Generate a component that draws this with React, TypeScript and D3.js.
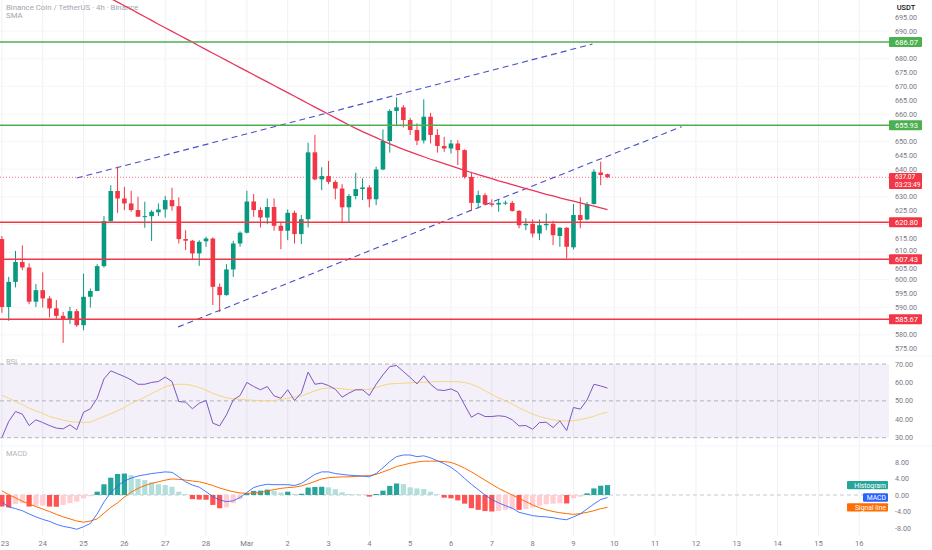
import * as d3 from "d3";

// 4h candles, Feb 23 00:00 -> Mar 9 20:00
const opens = [
  614.7, 590.1, 599.2, 606.4, 604.4, 592.0, 596.2, 593.2, 589.6, 586.9,
  585.6, 588.6, 583.5, 593.8, 595.9, 604.9, 621.2, 632.1, 629.4, 627.6,
  625.2, 622.7, 623.0, 624.4, 625.4, 628.8, 626.6, 614.7, 614.1, 609.5,
  613.9, 614.9, 597.4, 594.4, 603.7, 613.1, 617.0, 628.3, 625.2, 622.5,
  626.3, 619.5, 617.7, 624.2, 616.5, 621.9, 646.1, 636.3, 637.5, 635.4,
  633.0, 626.2, 630.3, 632.8, 633.4, 629.1, 639.9, 650.2, 661.1, 662.4,
  657.8, 654.2, 650.4, 659.0, 652.4, 648.4, 647.5, 649.3, 646.9, 637.2,
  627.8, 630.6, 627.6, 627.2, 627.6, 627.8, 624.9, 619.7, 620.2, 616.7,
  619.7, 620.2, 615.8, 618.8, 611.7, 623.4, 621.8, 627.4, 638.8, 638.2,
];
const highs = [
  615.8, 601.0, 610.4, 612.4, 605.9, 598.4, 602.6, 594.0, 592.6, 588.3,
  590.1, 589.4, 602.2, 596.8, 605.6, 623.0, 634.2, 640.9, 633.6, 632.2,
  630.0, 628.2, 625.2, 627.6, 630.3, 633.3, 629.8, 617.9, 614.4, 614.3,
  615.5, 615.3, 598.6, 605.6, 614.1, 617.5, 632.2, 631.0, 626.2, 629.4,
  629.4, 620.9, 625.4, 625.0, 623.4, 649.6, 652.4, 640.7, 643.0, 636.0,
  634.6, 631.0, 638.7, 636.7, 634.2, 640.9, 654.4, 661.7, 666.0, 663.2,
  658.5, 656.6, 665.3, 660.4, 654.5, 651.7, 650.6, 650.5, 647.2, 639.0,
  632.2, 631.4, 629.1, 628.8, 628.6, 628.5, 625.2, 622.2, 621.8, 621.8,
  624.0, 621.3, 619.0, 619.0, 627.4, 629.8, 628.1, 640.0, 642.7, 638.4,
];
const lows = [
  588.0, 585.1, 597.2, 603.4, 591.1, 590.1, 589.9, 586.3, 585.9, 577.1,
  584.0, 582.9, 581.7, 589.9, 595.9, 604.4, 621.0, 624.2, 625.2, 624.6,
  622.8, 618.8, 614.0, 623.0, 622.5, 625.0, 613.1, 610.7, 607.1, 605.0,
  611.9, 590.8, 588.3, 594.2, 601.0, 611.9, 616.7, 622.8, 618.9, 620.1,
  617.7, 611.0, 614.3, 613.1, 612.9, 618.9, 636.0, 632.4, 634.6, 629.1,
  620.9, 620.9, 629.1, 628.8, 626.2, 627.0, 639.6, 646.0, 655.6, 655.1,
  652.4, 648.7, 649.3, 649.3, 646.0, 646.3, 645.7, 641.5, 636.6, 624.9,
  625.8, 627.0, 626.4, 624.6, 627.0, 624.6, 618.6, 617.9, 615.3, 614.3,
  617.9, 612.5, 611.9, 607.7, 610.9, 618.6, 621.5, 627.2, 634.2, 636.9,
];
const closes = [
  590.1, 599.2, 606.4, 604.4, 592.0, 596.2, 593.2, 589.6, 586.9, 585.6,
  588.6, 583.5, 593.8, 595.9, 604.9, 621.2, 632.1, 629.4, 627.6, 625.2,
  622.8, 623.0, 624.6, 625.4, 628.8, 626.6, 614.7, 614.1, 609.5, 613.7,
  614.9, 597.4, 594.4, 603.7, 613.1, 617.0, 628.3, 625.2, 622.5, 626.3,
  619.5, 617.7, 624.2, 616.5, 621.9, 646.1, 636.3, 637.5, 635.4, 633.0,
  626.2, 630.3, 632.8, 633.4, 629.1, 639.9, 650.2, 661.1, 662.4, 657.8,
  654.2, 650.3, 659.0, 652.4, 648.4, 647.5, 649.3, 646.9, 637.2, 627.8,
  630.6, 627.2, 627.1, 627.8, 627.9, 624.9, 619.7, 620.2, 616.7, 619.7,
  620.2, 616.1, 618.8, 611.9, 623.4, 621.6, 627.4, 639.1, 637.9, 637.07,
];

// long SMA, visible from candle 15 on
const smaStart = 15;
const smaValues = [
  703.1, 701.8, 700.5, 699.2, 697.9, 696.5, 695.2, 693.9, 692.5, 691.2,
  689.9, 688.6, 687.3, 686.0, 684.6, 683.3, 682.0, 680.7, 679.4, 678.1,
  676.8, 675.5, 674.2, 672.9, 671.6, 670.3, 669.0, 667.7, 666.4, 665.1,
  663.8, 662.5, 661.2, 659.9, 658.6, 657.3, 656.0, 654.8, 653.6, 652.5,
  651.4, 650.3, 649.2, 648.2, 647.2, 646.3, 645.4, 644.5, 643.6, 642.8,
  642.0, 641.2, 640.4, 639.6, 638.8, 638.0, 637.3, 636.6, 635.8, 635.1,
  634.4, 633.7, 633.0, 632.3, 631.6, 630.9, 630.3, 629.6, 629.0, 628.4,
  627.8, 627.2, 626.6, 626.0, 625.4,
];

const rsiValues = [
  30.1, 38.8, 44.2, 42.8, 36.6, 39.7, 38.2, 36.6, 35.2, 34.8,
  37.0, 34.3, 43.8, 45.7, 51.4, 61.9, 66.3, 64.7, 63.2, 61.4,
  59.0, 59.0, 60.0, 60.5, 62.9, 60.5, 49.6, 49.3, 45.7, 48.7,
  50.2, 37.9, 36.4, 42.4, 50.5, 52.9, 60.0, 57.8, 56.0, 57.8,
  52.7, 51.4, 56.0, 50.2, 54.2, 65.6, 59.0, 59.6, 58.3, 56.3,
  52.0, 54.2, 56.0, 56.0, 52.9, 59.0, 64.1, 68.6, 69.2, 65.9,
  62.7, 59.2, 63.6, 59.0, 56.0, 55.6, 56.5, 54.7, 47.8, 41.1,
  43.3, 41.5, 41.5, 41.9, 41.5, 39.7, 36.4, 36.6, 34.6, 38.2,
  38.4, 35.5, 39.1, 33.9, 46.4, 45.5, 50.5, 59.0, 58.1, 56.9,
];
const rsiMa = [
  53.0, 51.5, 49.6, 48.0, 46.0, 44.5, 43.2, 41.5, 40.5, 39.5,
  38.8, 38.4, 38.3, 38.4, 40.0, 41.5, 43.0, 44.6, 46.4, 48.6,
  50.3, 52.0, 54.0, 55.8, 57.6, 58.7, 59.0, 59.0, 58.3, 57.3,
  55.8, 54.0, 52.8, 51.6, 51.1, 50.8, 50.5, 50.3, 50.1, 50.0,
  50.2, 50.8, 51.4, 52.0, 52.7, 54.0, 55.4, 56.6, 57.0, 56.9,
  56.5, 56.1, 56.0, 56.0, 56.2, 57.2, 58.4, 59.2, 59.4, 59.6,
  59.8, 60.0, 60.1, 60.3, 60.5, 60.5, 60.5, 60.4, 60.0, 59.0,
  57.5, 55.5, 53.5, 51.5, 50.0, 48.3, 46.2, 44.5, 42.8, 41.5,
  40.5, 39.7, 39.3, 39.1, 39.2, 39.9, 40.6, 41.6, 43.0, 43.8,
];

const macdLine = [
  -1.7, -2.9, -3.3, -3.8, -4.6, -5.3, -5.9, -6.4, -7.1, -7.6,
  -7.9, -8.3, -7.7, -6.9, -4.6, -1.7, 0.6, 2.2, 3.4, 4.1,
  4.6, 4.9, 5.2, 5.4, 5.6, 5.5, 4.4, 3.2, 2.4, 1.9,
  0.8, -0.4, -1.2, -1.6, -1.4, -0.6, 0.6, 1.8, 2.3, 2.6,
  2.5, 2.5, 2.5, 2.3, 2.8, 3.9, 5.0, 5.6, 5.6, 5.2,
  5.0, 4.8, 4.7, 4.6, 4.4, 5.2, 6.6, 8.1, 9.3, 9.7,
  9.7, 9.3, 9.5, 9.0, 8.3, 7.6, 6.7, 5.5, 4.0, 2.6,
  1.3, 0.0, -1.1, -1.9, -2.6, -3.2, -4.2, -4.6, -5.0, -5.2,
  -5.3, -5.5, -5.8, -6.0, -5.3, -4.6, -3.4, -2.2, -1.1, -0.6,
];
const signalLine = [
  1.0, 0.1, -0.7, -1.5, -2.2, -2.8, -3.4, -4.0, -4.7, -5.3,
  -5.8, -6.3, -6.6, -6.3, -5.8, -4.4, -3.0, -1.9, -0.5, 0.7,
  1.6, 2.3, 2.8, 3.2, 3.6, 3.9, 3.8, 3.6, 3.4, 3.2,
  2.8, 2.3, 1.7, 1.2, 0.8, 0.5, 0.4, 0.5, 0.6, 1.0,
  1.3, 1.6, 1.8, 1.9, 2.2, 2.7, 3.3, 3.9, 4.2, 4.3,
  4.4, 4.4, 4.5, 4.6, 4.7, 5.0, 5.6, 6.2, 6.9, 7.3,
  7.7, 8.0, 8.2, 8.2, 8.2, 8.1, 7.9, 7.3, 6.5, 5.6,
  4.6, 3.6, 2.6, 1.6, 0.8, 0.0, -0.8, -1.6, -2.4, -3.1,
  -3.6, -4.0, -4.3, -4.5, -4.7, -4.5, -4.2, -3.8, -3.3, -3.0,
];
const histValues = [
  -2.8, -3.0, -2.2, -2.0, -2.8, -2.6, -2.55, -2.8, -2.85, -2.4,
  -2.0, -1.6, -0.8, -0.3, 0.8, 2.6, 4.2, 5.1, 5.2, 4.8,
  3.9, 3.6, 3.1, 2.6, 2.4, 2.0, 0.8, 0.2, -1.0, -1.1,
  -1.15, -2.4, -3.2, -3.0, -2.0, -1.0, 0.4, 1.0, 1.05, 1.3,
  1.0, 0.6, 0.8, 0.25, 0.3, 1.8, 1.95, 2.0, 1.85, 1.4,
  0.65, 0.25, 0.15, 0.1, -0.4, 0.25, 1.05, 2.2, 2.8, 2.65,
  1.85, 1.6, 1.45, 0.8, 0.15, -0.65, -0.8, -1.3, -2.1, -3.2,
  -3.6, -3.9, -4.0, -3.85, -3.6, -3.5, -3.6, -3.4, -3.05, -2.6,
  -2.25, -2.1, -2.0, -2.05, -0.8, -0.4, 0.4, 1.6, 2.25, 2.4,
];

// one label per day, every 6 candles
const dayLabels = [
  "23", "24", "25", "26", "27", "28", "Mar", "2", "3", "4", "5",
  "6", "7", "8", "9", "10", "11", "12", "13", "14", "15", "16",
];
const priceTicks = [
  695, 690, 685, 680, 675, 670, 665, 660, 655, 650, 645, 640, 635,
  630, 625, 620, 615, 610, 605, 600, 595, 590, 585, 580, 575,
];
const priceGrid = [690, 680, 670, 660, 650, 640, 630, 620, 610, 600, 590, 580];
const rsiTicks = [70, 60, 50, 40, 30];
const rsiBands = [70, 50, 30];
const macdTicks = [8, 4, 0, -4, -8];

const greenLevels = [686.07, 655.93];
const redLevels = [620.8, 607.43, 585.67];
// channel anchors: [candle index, price]
const upperChannel: [number, number][] = [[11, 636.8], [86.8, 685.3]];
const lowerChannel: [number, number][] = [[25.9, 582.9], [99.9, 655.4]];
const countdown = "03:23:49";

const FONT = "Roboto, 'Noto Sans', sans-serif";
const UP = "#089981";
const DOWN = "#f23645";
const GREEN_LEVEL = "#4caf50";
const RED_LEVEL = "#f23645";
const AXIS_TEXT = "#787b86";
const GRID = "#f0f1f5";

export default function App() {
  const width = 932;
  const height = 550;
  const plotRight = 889;
  const axisX = 895;

  const x = d3.scaleLinear().domain([0, 89]).range([1.9, 607.5]);
  const y = d3.scaleLinear().domain([575, 695]).range([348.7, 17.3]);
  const yRsi = d3.scaleLinear().domain([30, 70]).range([437.7, 364]);
  const yMacd = d3.scaleLinear().domain([-8, 8]).range([528, 462]);

  const last = closes.length - 1;
  const lastPrice = closes[last];
  const ly = y(lastPrice);

  // tick labels under the value tags are hidden; close neighbours are nudged away
  const tagged = [...greenLevels, ...redLevels];
  const tickRows = priceTicks
    .filter((p) => {
      const py = y(p);
      if (tagged.some((v) => Math.abs(y(v) - py) < 6)) return false;
      return !(py > ly - 6 && py < ly + 14);
    })
    .map((p) => {
      let py = y(p);
      tagged.forEach((v) => {
        const d = py - y(v);
        if (Math.abs(d) < 9) py = y(v) + Math.sign(d) * 9;
      });
      return { p, py };
    });

  const smaPath = d3
    .line<number>()
    .x((_, i) => x(i + smaStart))
    .y((d) => y(d))(smaValues);

  const rsiPath = d3.line<number>().x((_, i) => x(i)).y((d) => yRsi(d))(rsiValues);
  const rsiMaPath = d3.line<number>().x((_, i) => x(i)).y((d) => yRsi(d))(rsiMa);
  const macdPath = d3.line<number>().x((_, i) => x(i)).y((d) => yMacd(d))(macdLine);
  const signalPath = d3.line<number>().x((_, i) => x(i)).y((d) => yMacd(d))(signalLine);

  const histColor = (v: number, i: number) => {
    const prev = i > 0 ? histValues[i - 1] : 0;
    if (v >= 0) return v >= prev ? "#26a69a" : "#b2dfdb";
    return v < prev ? "#ff5252" : "#ffcdd2";
  };

  const bodyW = 4.6;
  const barW = 5.2;

  const levelLine = (v: number, color: string, key: string) => (
    <g key={key}>
      <line x1={0} x2={plotRight} y1={y(v)} y2={y(v)} stroke={color} strokeWidth={1.5} />
      <rect x={889} y={y(v) - 5} width={33} height={10} fill={color} rx={1} />
      <text x={axisX} y={y(v) + 2.6} fontSize={7.5} fill="#fff">
        {v.toFixed(2)}
      </text>
    </g>
  );

  const macdLegend = [
    { label: "Histogram", value: histValues[last], color: "#26a69a", w: 41 },
    { label: "MACD", value: macdLine[last], color: "#2962ff", w: 25 },
    { label: "Signal line", value: signalLine[last], color: "#ff6d00", w: 41 },
  ];

  return (
    <svg
      width={width}
      height={height}
      style={{ position: "absolute", left: 0, top: 0, background: "#fff" }}
      fontFamily={FONT}
    >
      <defs>
        <clipPath id="mainClip">
          <rect x={0} y={0} width={plotRight} height={355} />
        </clipPath>
      </defs>

      {/* grid */}
      {dayLabels.map((d, k) => (
        <line key={"g" + d} x1={x(k * 6)} x2={x(k * 6)} y1={0} y2={536} stroke={GRID} strokeWidth={1} />
      ))}
      {priceGrid.map((p) => (
        <line key={"hg" + p} x1={0} x2={plotRight} y1={y(p)} y2={y(p)} stroke="#f5f6f9" strokeWidth={1} />
      ))}

      {/* legend */}
      <text x={6} y={10} fontSize={7.8} fill="#a3a6af">
        Binance Coin / TetherUS · 4h · Binance
      </text>
      <text x={6} y={18} fontSize={7.8} fill="#a3a6af">
        SMA
      </text>

      {/* price axis ticks */}
      <text x={906} y={10} fontSize={7.5} fill="#131722" textAnchor="middle" fontWeight={500}>
        USDT
      </text>
      {tickRows.map((t) => (
        <text key={"p" + t.p} x={axisX} y={t.py + 2.6} fontSize={7.2} fill={AXIS_TEXT}>
          {t.p.toFixed(2)}
        </text>
      ))}

      <g clipPath="url(#mainClip)">
        {/* current price dotted line */}
        <line
          x1={0}
          x2={plotRight}
          y1={ly}
          y2={ly}
          stroke={DOWN}
          strokeWidth={1}
          strokeDasharray="1 2"
          opacity={0.7}
        />

        {/* channel */}
        {[upperChannel, lowerChannel].map((c, k) => (
          <line
            key={"ch" + k}
            x1={x(c[0][0])}
            y1={y(c[0][1])}
            x2={x(c[1][0])}
            y2={y(c[1][1])}
            stroke="#4a4fc4"
            strokeWidth={1.1}
            strokeDasharray="6 4"
          />
        ))}

        {/* candles */}
        {closes.map((c, i) => {
          const o = opens[i];
          const color = c >= o ? UP : DOWN;
          const top = y(Math.max(o, c));
          const h = Math.max(1, Math.abs(y(o) - y(c)));
          return (
            <g key={"c" + i}>
              <line x1={x(i)} x2={x(i)} y1={y(highs[i])} y2={y(lows[i])} stroke={color} strokeWidth={1} />
              <rect x={x(i) - bodyW / 2} y={top} width={bodyW} height={h} fill={color} />
            </g>
          );
        })}

        {/* SMA */}
        <path d={smaPath ?? ""} fill="none" stroke="#e8365a" strokeWidth={1.3} />
      </g>

      {/* horizontal levels */}
      {greenLevels.map((v) => levelLine(v, GREEN_LEVEL, "gl" + v))}
      {redLevels.map((v) => levelLine(v, RED_LEVEL, "rl" + v))}

      {/* last price tag */}
      <rect x={889} y={ly - 4.4} width={33} height={16} fill={DOWN} rx={1} />
      <text x={axisX} y={ly + 2.2} fontSize={6.6} fill="#fff">
        {lastPrice.toFixed(2)}
      </text>
      <text x={axisX} y={ly + 9.8} fontSize={6.6} fill="#fff">
        {countdown}
      </text>

      {/* RSI pane */}
      <line x1={0} x2={width} y1={356} y2={356} stroke="#f5f6f9" />
      <rect
        x={0}
        y={yRsi(70)}
        width={plotRight}
        height={yRsi(30) - yRsi(70)}
        fill="rgba(126,87,194,0.09)"
      />
      {rsiBands.map((v) => (
        <line
          key={"rb" + v}
          x1={0}
          x2={plotRight}
          y1={yRsi(v)}
          y2={yRsi(v)}
          stroke="#b2b5be"
          strokeWidth={1}
          strokeDasharray="4 3"
        />
      ))}
      <text x={6} y={364} fontSize={7.5} fill="#b2b5be">
        RSI
      </text>
      <path d={rsiMaPath ?? ""} fill="none" stroke="#f5d77e" strokeWidth={1} />
      <path d={rsiPath ?? ""} fill="none" stroke="#7e57c2" strokeWidth={1} />
      {rsiTicks.map((v) => (
        <text key={"r" + v} x={axisX} y={yRsi(v) + 2.6} fontSize={7.2} fill={AXIS_TEXT}>
          {v.toFixed(2)}
        </text>
      ))}

      {/* MACD pane */}
      <line x1={0} x2={width} y1={446} y2={446} stroke="#f5f6f9" />
      <text x={6} y={456} fontSize={7.5} fill="#b2b5be">
        MACD
      </text>
      <line
        x1={0}
        x2={plotRight}
        y1={yMacd(0)}
        y2={yMacd(0)}
        stroke="#c5c8d0"
        strokeWidth={1}
        strokeDasharray="4 3"
      />
      {histValues.map((v, i) => (
        <rect
          key={"h" + i}
          x={x(i) - barW / 2}
          y={Math.min(yMacd(v), yMacd(0))}
          width={barW}
          height={Math.abs(yMacd(v) - yMacd(0))}
          fill={histColor(v, i)}
        />
      ))}
      <path d={signalPath ?? ""} fill="none" stroke="#ff6d00" strokeWidth={1} />
      <path d={macdPath ?? ""} fill="none" stroke="#2962ff" strokeWidth={1} opacity={0.85} />
      {macdTicks.map((v) => (
        <text key={"m" + v} x={axisX} y={yMacd(v) + 2.6} fontSize={7.2} fill={AXIS_TEXT}>
          {v.toFixed(2)}
        </text>
      ))}
      {macdLegend.map((l) => (
        <g key={l.label}>
          <rect x={888 - l.w} y={yMacd(l.value) - 4.2} width={l.w} height={8.4} fill={l.color} rx={1} />
          <text x={886} y={yMacd(l.value) + 2.4} fontSize={6.8} fill="#fff" textAnchor="end">
            {l.label}
          </text>
        </g>
      ))}

      {/* time axis */}
      {dayLabels.map((d, k) => (
        <text
          key={"d" + d}
          x={Math.max(x(k * 6), 5)}
          y={546}
          fontSize={7.5}
          fill={AXIS_TEXT}
          textAnchor="middle"
        >
          {d}
        </text>
      ))}
    </svg>
  );
}
